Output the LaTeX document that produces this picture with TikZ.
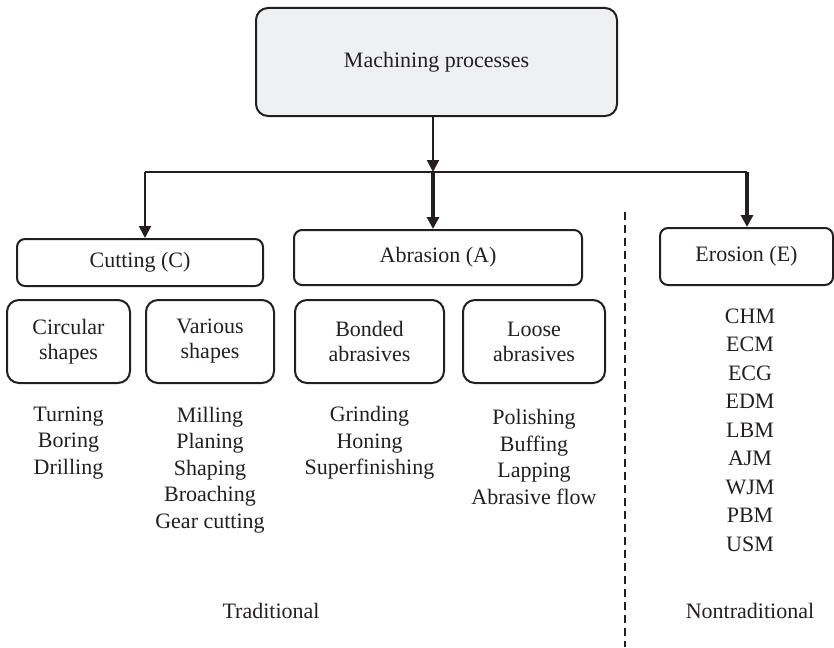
\documentclass[tikz,border=0pt]{standalone}
\usepackage{fontspec}
\setmainfont{Liberation Serif}
\usetikzlibrary{arrows.meta}
\definecolor{ink}{HTML}{231F20}
\definecolor{mainfill}{HTML}{EFF0F2}
\tikzset{
  box/.style={draw=ink, line width=1pt, rounded corners=4pt, inner sep=0pt, align=center, text=ink},
  subbox/.style={box, rounded corners=6pt, minimum height=41.5pt, font=\fontsize{11}{12.5}\selectfont},
  listtxt/.style={align=center, text=ink, inner sep=0pt, font=\fontsize{11}{13.25}\selectfont},
  conn/.style={draw=ink, line width=1pt},
  arr/.style={conn, -{Triangle[length=6pt,width=6pt]}},
}
\begin{document}
\begin{tikzpicture}[x=0.5pt,y=-0.5pt, font=\fontsize{11}{13.25}\selectfont]
\useasboundingbox (0,0) rectangle (834,647);
% main
\node[box, fill=mainfill, rounded corners=6pt, minimum width=180.5pt, minimum height=54pt] (main) at (436.5,62) {Machining processes};
% categories
\node[box, minimum width=123pt, minimum height=23.5pt] (cut) at (140,262.5) {Cutting (C)};
\node[box, minimum width=144pt, minimum height=27.5pt] (abr) at (438,257.5) {Abrasion (A)};
\node[box, minimum width=86.5pt, minimum height=28.5pt] (ero) at (746.5,256.5) {Erosion (E)};
% sub boxes
\node[subbox, minimum width=61.5pt] (circ) at (68.5,341.5) {Circular\\shapes};
\node[subbox, minimum width=64pt] (vari) at (210,341.5) {Various\\shapes};
\node[subbox, minimum width=74.5pt] (bond) at (369.5,341.5) {Bonded\\abrasives};
\node[subbox, minimum width=71pt] (loose) at (534,341.5) {Loose\\abrasives};
% lists
\node[listtxt] (lcirc) at (68.5,443) {Turning\\Boring\\Drilling};
\node[listtxt] (lvari) at (210,470) {Milling\\Planing\\Shaping\\Broaching\\Gear cutting};
\node[listtxt] (lbond) at (369.5,443) {Grinding\\Honing\\Superfinishing};
\node[listtxt] (lloose) at (534,457) {Polishing\\Buffing\\Lapping\\Abrasive flow};
\node[listtxt, font=\fontsize{11}{14.25}\selectfont] (lero) at (750,430) {CHM\\ECM\\ECG\\EDM\\LBM\\AJM\\WJM\\PBM\\USM};
\node[listtxt] (trad) at (271,611) {Traditional};
\node[listtxt] (ntrad) at (750,611) {Nontraditional};
% connectors
\coordinate (jc) at (433,172);
\coordinate (jl) at (145,172);
\coordinate (jr) at (747,172);
\draw[arr] (main.south -| jc) -- (jc);
\draw[conn, line width=1.3pt] (jl) -- (jr);
\draw[arr] (jl) -- (jl |- cut.north);
\draw[arr, line width=1.6pt] (jc) -- (jc |- abr.north);
\draw[arr, line width=1.6pt] (jr) -- (jr |- ero.north);
% divider
\coordinate (dtop) at (625,212);
\coordinate (dbot) at (625,647);
\draw[draw=ink, line width=0.8pt, dash pattern=on 4pt off 2.5pt] (dtop) -- (dbot);
\end{tikzpicture}
\end{document}
